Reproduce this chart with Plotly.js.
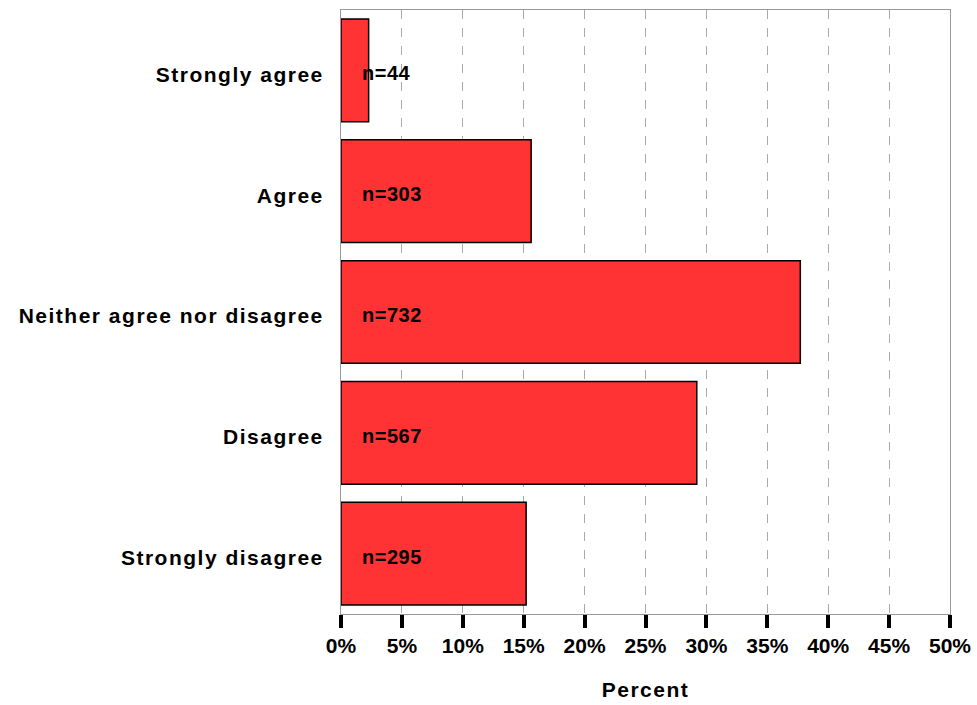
<!DOCTYPE html>
<html><head><meta charset="utf-8">
<script src="https://cdn.plot.ly/plotly-3.0.1.min.js"></script>
<style>
html,body{margin:0;padding:0;background:#fff}
.ytick text{letter-spacing:1.5px !important}
.xtitle{letter-spacing:1.5px !important}
.annotation-text{letter-spacing:0.5px !important}
</style>
</head><body>
<div id="chart" style="width:977px;height:705px"></div>
<script>
const categories = ["Strongly agree","Agree","Neither agree nor disagree","Disagree","Strongly disagree"];
const counts = [44, 303, 732, 567, 295];
const percents = [2.27, 15.61, 37.71, 29.21, 15.20];
const labels = ["n=44","n=303","n=732","n=567","n=295"];
const tickVals = [0,5,10,15,20,25,30,35,40,45,50];
const tickText = ["0%","5%","10%","15%","20%","25%","30%","35%","40%","45%","50%"];

const font = "Liberation Sans, Arial, sans-serif";
const trace = {
  type: "bar", orientation: "h",
  x: percents, y: categories,
  width: 0.85,
  marker: {color: "#FF3333", line: {color: "#000", width: 1.5}},
  hoverinfo: "none"
};
const annotations = categories.map((c, i) => ({
  x: 1.6, y: c, xref: "x", yref: "y", xanchor: "left", yanchor: "middle",
  yshift: -3,
  text: "<b>" + labels[i] + "</b>", showarrow: false,
  font: {family: font, size: 20, color: "#000"}
}));
const layout = {
  width: 977, height: 705,
  margin: {l: 341, r: 27, t: 10, b: 91},
  paper_bgcolor: "#fff", plot_bgcolor: "#fff",
  showlegend: false,
  bargap: 0.15,
  xaxis: {
    range: [0, 50], tickvals: tickVals, ticktext: tickText,
    ticks: "outside", ticklen: 13, tickwidth: 4, tickcolor: "#000",
    showgrid: true, gridcolor: "#aaa", griddash: "dash", gridwidth: 1,
    showline: true, linecolor: "#999", linewidth: 1, mirror: true,
    zeroline: false,
    tickfont: {family: font, size: 21, color: "#000", weight: "bold"},
    ticklabelstandoff: 0,
    title: {text: "<b>Percent</b>", font: {family: font, size: 21, color: "#000"}, standoff: 26},
    fixedrange: true
  },
  yaxis: {
    categoryorder: "array", categoryarray: categories.slice().reverse(),
    range: [-0.5, 4.5],
    showline: true, linecolor: "#999", linewidth: 1, mirror: true,
    ticks: "", showgrid: false, zeroline: false,
    tickfont: {family: font, size: 21, color: "#000", weight: "bold"},
    ticklabelstandoff: 12,
    ticklabelshift: 4,
    fixedrange: true
  },
  annotations: annotations
};
Plotly.newPlot("chart", [trace], layout, {displayModeBar: false, staticPlot: true});
</script>
</body></html>
